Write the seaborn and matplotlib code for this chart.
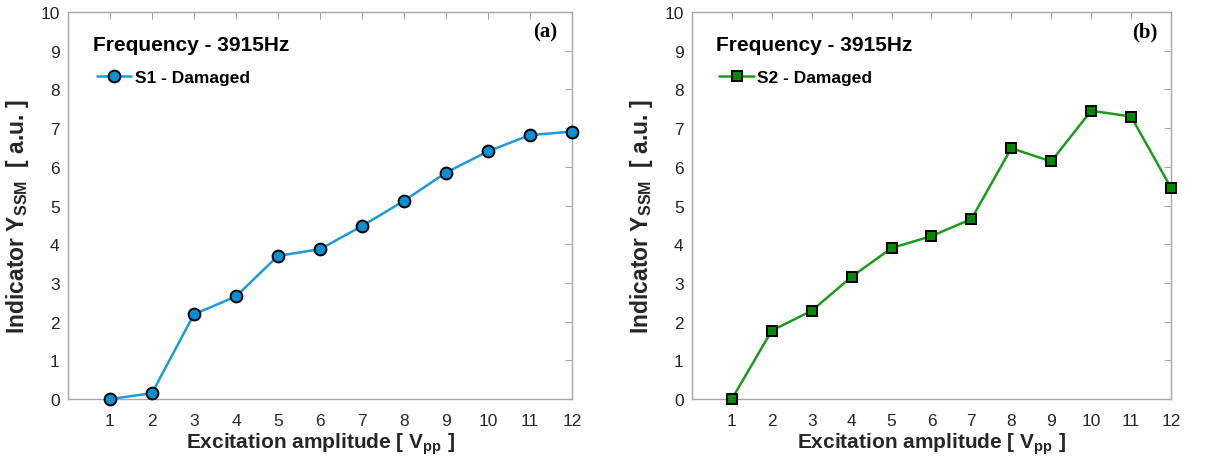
import numpy as np
import pandas as pd
import matplotlib
matplotlib.use("Agg")
import matplotlib.pyplot as plt
import seaborn as sns

# Excitation amplitude (Vpp) and damage indicator per sensor
amplitude = [1, 2, 3, 4, 5, 6, 7, 8, 9, 10, 11, 12]
s1_damaged = [0.00, 0.15, 2.19, 2.65, 3.70, 3.87, 4.47, 5.12, 5.85, 6.40, 6.82, 6.91]
s2_damaged = [0.00, 1.77, 2.28, 3.16, 3.90, 4.21, 4.65, 6.48, 6.14, 7.45, 7.30, 5.46]
x_ticks = list(range(1, 13))
y_ticks = list(range(0, 11))

sns.set_theme(style="white")
plt.rcParams["font.family"] = ["Liberation Sans", "DejaVu Sans"]
plt.rcParams["mathtext.fontset"] = "custom"
plt.rcParams["mathtext.rm"] = "Liberation Sans:bold"
plt.rcParams["mathtext.it"] = "Liberation Sans:bold"
plt.rcParams["mathtext.bf"] = "Liberation Sans:bold"
plt.rcParams["mathtext.default"] = "rm"

df = pd.DataFrame({"amp": amplitude, "S1": s1_damaged, "S2": s2_damaged})

fig = plt.figure(figsize=(12.2, 4.64), dpi=100)
ax_a = fig.add_axes([0.0557, 0.1379, 0.4131, 0.834])
ax_b = fig.add_axes([0.5672, 0.1379, 0.3926, 0.834])

panels = [
    (ax_a, "S1", "S1 - Damaged", "o", "#1d9ad8", "#0b8fd3", 8.5, "(a)"),
    (ax_b, "S2", "S2 - Damaged", "s", "#1c9a1c", "#008a00", 7.5, "(b)"),
]

spine_gray = "#a6a6a6"
text_dark = "#262626"

for ax, col, label, marker, line_c, face_c, ms, tag in panels:
    sns.lineplot(data=df, x="amp", y=col, ax=ax, color=line_c, linewidth=1.8,
                 marker=marker, markersize=ms, markerfacecolor=face_c,
                 markeredgecolor="black", markeredgewidth=1.4, label=label,
                 clip_on=False, zorder=5)
    ax.set_xlim(0, 12)
    ax.set_ylim(0, 10)
    ax.set_xticks(x_ticks)
    ax.set_yticks(y_ticks)
    for s in ax.spines.values():
        s.set_visible(True)
        s.set_color(spine_gray)
        s.set_linewidth(1.0)
    ax.tick_params(direction="in", length=5, width=0.8, color=spine_gray,
                   top=True, right=True, labelsize=12.5, labelcolor=text_dark)
    ax.tick_params(axis="x", pad=10)
    ax.tick_params(axis="y", pad=6)
    ax.set_xlabel("Excitation amplitude [ V$_{pp}$ ]", fontsize=15,
                  fontweight="bold", color=text_dark, labelpad=2)
    ax.set_ylabel("Indicator Y$_{SSM}$  [ a.u. ]", fontsize=16.5,
                  fontweight="bold", color=text_dark, labelpad=5)
    ax.yaxis.set_label_coords(-0.074 if ax is ax_a else -0.078, 0.475)
    ax.text(0.05, 0.917, "Frequency - 3915Hz", transform=ax.transAxes,
            fontsize=15, fontweight="bold", color="black", va="center",
            ha="left")
    ax.text(0.946, 0.951, tag, transform=ax.transAxes, fontsize=15,
            fontweight="bold", family="Liberation Serif", color="black",
            va="center", ha="center")
    leg = ax.legend(loc="center left", bbox_to_anchor=(0.057, 0.832),
                    frameon=False, fontsize=12.5, handlelength=2.0,
                    handletextpad=0.2, borderpad=0, borderaxespad=0)
    for t in leg.get_texts():
        t.set_fontweight("bold")
        t.set_color("black")

fig.savefig("out.png", dpi=100, facecolor="white")
